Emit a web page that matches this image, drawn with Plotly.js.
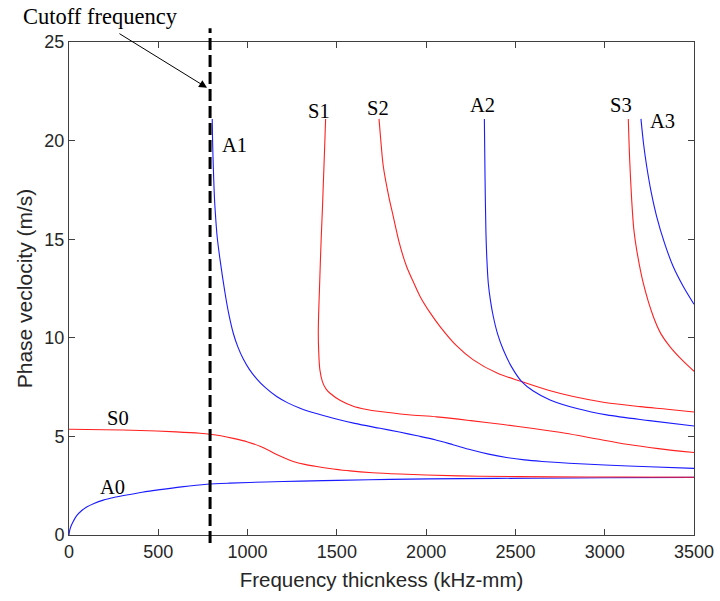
<!DOCTYPE html>
<html>
<head>
<meta charset="utf-8">
<script src="https://cdn.plot.ly/plotly-3.0.1.min.js"></script>
<style>html,body{margin:0;padding:0;background:#fff;}#chart{width:720px;height:601px;}</style>
</head>
<body>
<div id="chart"></div>
<script>
// Frequency-thickness (kHz-mm) and phase velocity values
const A0_x = [0, 3, 10, 20, 43, 70, 99, 140, 192, 250, 323, 410, 510, 630, 771, 900, 1100, 1300, 1500, 1800, 2200, 2600, 3000, 3500];
const A0_y = [0, 0.2, 0.42, 0.62, 0.98, 1.23, 1.42, 1.6, 1.77, 1.9, 2.03, 2.17, 2.3, 2.44, 2.57, 2.63, 2.69, 2.73, 2.77, 2.82, 2.86, 2.88, 2.9, 2.92];

const S0_x = [0, 200, 400, 600, 734, 790, 850, 920, 1000, 1070, 1120, 1163, 1210, 1256, 1320, 1387, 1480, 1574, 1700, 1854, 2000, 2300, 2700, 3100, 3500];
const S0_y = [5.36, 5.34, 5.3, 5.23, 5.16, 5.11, 5.03, 4.9, 4.72, 4.5, 4.29, 4.08, 3.89, 3.73, 3.58, 3.47, 3.35, 3.25, 3.16, 3.09, 3.04, 2.98, 2.95, 2.94, 2.93];

const A1_x = [802, 804, 808, 815, 822, 830, 846, 874, 895, 920, 945, 976, 1010, 1051, 1100, 1163, 1225, 1294, 1380, 1480, 1600, 1742, 1850, 1950, 2050, 2150, 2250, 2350, 2450, 2550, 2650, 2800, 3000, 3250, 3500];
const A1_y = [21.1, 20, 18.7, 17, 16, 15.1, 13.95, 12.26, 11.2, 10.23, 9.55, 8.92, 8.4, 7.92, 7.47, 7.02, 6.7, 6.43, 6.17, 5.92, 5.66, 5.41, 5.22, 5.03, 4.83, 4.58, 4.32, 4.1, 3.93, 3.81, 3.73, 3.64, 3.55, 3.46, 3.38];

const S1_x = [1437, 1431, 1425, 1419, 1413, 1408, 1402, 1398, 1396, 1398, 1405, 1420, 1440, 1462, 1520, 1592, 1660, 1742, 1900, 2059, 2250, 2432, 2600, 2780, 2950, 3124, 3300, 3500];
const S1_y = [21.1, 19.5, 18, 16.5, 15.2, 13.95, 12.3, 11.2, 10.3, 9.4, 8.37, 7.75, 7.4, 7.19, 6.82, 6.53, 6.38, 6.26, 6.1, 5.99, 5.8, 5.6, 5.4, 5.16, 4.88, 4.6, 4.38, 4.18];

const S2_x = [1736, 1748, 1760, 1790, 1816, 1850, 1891, 1930, 1966, 2020, 2078, 2170, 2264, 2400, 2535, 2700, 2824, 3000, 3198, 3350, 3500];
const S2_y = [21.1, 19.8, 18.7, 17.2, 16.15, 14.8, 13.6, 12.8, 12.1, 11.3, 10.57, 9.6, 8.88, 8.2, 7.78, 7.3, 7.02, 6.72, 6.51, 6.38, 6.24];

const A2_x = [2326, 2330, 2335, 2340, 2348, 2360, 2376, 2400, 2432, 2480, 2535, 2600, 2694, 2850, 3011, 3250, 3500];
const A2_y = [21.1, 18, 15.3, 14, 12.77, 11.9, 11.08, 10.2, 9.39, 8.5, 7.78, 7.3, 6.85, 6.4, 6.09, 5.8, 5.53];

const S3_x = [3132, 3140, 3151, 3163, 3179, 3216, 3272, 3315, 3365, 3430, 3500];
const S3_y = [21.1, 19, 17, 15.5, 14.46, 12.77, 11.08, 10.2, 9.55, 8.9, 8.3];

const A3_x = [3203, 3218, 3235, 3260, 3291, 3335, 3384, 3440, 3500];
const A3_y = [21.1, 19.8, 18.7, 17.4, 16.15, 14.8, 13.6, 12.6, 11.7];

const cutoff = 790;
const xTicks = [0, 500, 1000, 1500, 2000, 2500, 3000, 3500];
const yTicks = [0, 5, 10, 15, 20, 25];

const modeLabels = ['A0', 'S0', 'A1', 'S1', 'S2', 'A2', 'S3', 'A3'];
const labelX = [241, 274, 924, 1400, 1730, 2318, 3091, 3321];
const labelY = [2.44, 5.94, 19.79, 21.51, 21.66, 21.8, 21.79, 21.0];

const BLUE = '#1a1aff', RED = '#ff2020';
function tr(x, y, c) {
  return {x: x, y: y, type: 'scatter', mode: 'lines', line: {color: c, width: 1.1, shape: 'spline', smoothing: 0.9}, hoverinfo: 'skip', showlegend: false};
}
const data = [
  tr(A0_x, A0_y, BLUE), tr(S0_x, S0_y, RED),
  tr(A1_x, A1_y, BLUE), tr(S1_x, S1_y, RED),
  tr(S2_x, S2_y, RED), tr(A2_x, A2_y, BLUE),
  tr(S3_x, S3_y, RED), tr(A3_x, A3_y, BLUE)
];

const serifFam = '"Liberation Serif", "Times New Roman", serif';
const annotations = modeLabels.map((t, i) => ({x: labelX[i], y: labelY[i], xref: 'x', yref: 'y', text: t, showarrow: false, font: {family: serifFam, size: 20.5, color: '#000'}, xanchor: 'center', yanchor: 'middle'}));
annotations.push({x: 0.0496, y: 1.051, xref: 'paper', yref: 'paper', text: 'Cutoff frequency', showarrow: false, font: {family: serifFam, size: 22.5, color: '#000'}, xanchor: 'center', yanchor: 'middle'});
annotations.push({x: 773, y: 22.68, xref: 'x', yref: 'y', ax: 274, ay: 25.47, axref: 'x', ayref: 'y', text: '', showarrow: true, arrowhead: 2, arrowsize: 1.6, arrowwidth: 1, arrowcolor: '#000'});

const tickFont = {family: '"Liberation Sans", Arial, sans-serif', size: 18, color: '#262626'};
const layout = {
  width: 720, height: 601,
  margin: {l: 69, r: 26, t: 42, b: 66},
  paper_bgcolor: '#fff', plot_bgcolor: '#fff',
  xaxis: {range: [0, 3500], tickvals: xTicks, ticktext: xTicks.map(String), ticks: 'inside', ticklen: 6, tickcolor: '#404040',
    showline: true, linecolor: '#404040', linewidth: 1, mirror: 'ticks', showgrid: false, zeroline: false, tickfont: tickFont,
    title: {text: 'Frequency thicnkess (kHz-mm)', font: {family: '"Liberation Sans", Arial, sans-serif', size: 20.5, color: '#262626'}, standoff: 12}},
  yaxis: {range: [0, 25], tickvals: yTicks, ticktext: yTicks.map(String), ticks: 'inside', ticklen: 6, tickcolor: '#404040',
    showline: true, linecolor: '#404040', linewidth: 1, mirror: 'ticks', showgrid: false, zeroline: false, tickfont: tickFont,
    title: {text: 'Phase veclocity (m/s)', font: {family: '"Liberation Sans", Arial, sans-serif', size: 21, color: '#262626'}, standoff: 6}},
  shapes: [{type: 'line', xref: 'x', yref: 'paper', x0: cutoff, x1: cutoff, y0: -0.016, y1: 1.028, line: {color: '#000', width: 3, dash: '12px,5px'}, layer: 'above'}],
  annotations: annotations
};
Plotly.newPlot('chart', data, layout, {staticPlot: true, displayModeBar: false});
</script>
</body>
</html>
